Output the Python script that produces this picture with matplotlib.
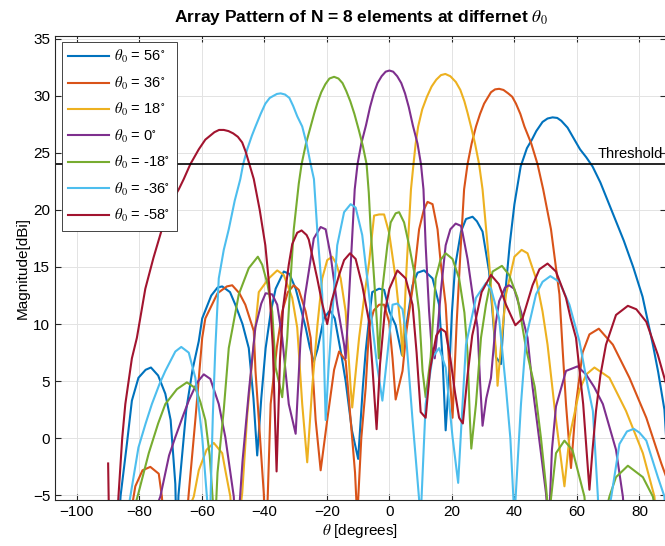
import matplotlib
matplotlib.use("Agg")
import matplotlib.pyplot as plt

plt.rcParams['font.family'] = ['Liberation Sans', 'DejaVu Sans']
plt.rcParams['mathtext.fontset'] = 'stix'

# (theta [deg], magnitude [dBi]), one list per steering angle
pat_56 = [(-90, -20), (-87, -9), (-86, -5), (-84, -0.5), (-82.4, 3.3), (-80.3, 5.3), (-78, 6.0), (-76.3, 6.2),
          (-74, 5.5), (-71.7, 3.9), (-70, 1.6), (-68.5, -4), (-68, -10), (-67.5, -5), (-65, 2.5), (-63, 6.0),
          (-61, 8.5), (-59.9, 10.5), (-57, 12.5), (-55, 13.2), (-53.5, 13.3), (-51, 12.8), (-49.3, 11.7),
          (-47, 10), (-45, 7.9), (-43.5, 3.5), (-42.3, -1.5), (-41, 3.5), (-39.6, 7.9), (-38, 11), (-36.4, 13.1),
          (-33.8, 14.6), (-32, 14.4), (-30, 13.1), (-28, 11), (-26.8, 9.7), (-25.5, 8), (-24.2, 6.7), (-23, 7.8),
          (-21, 10.5), (-19, 11.2), (-17.5, 10.5), (-15.5, 7.5), (-14, 5), (-12, 0.7), (-10, -1.8), (-8.5, 4.5),
          (-7.6, 7.6), (-6.5, 10.5), (-5.5, 12.8), (-3.3, 13.1), (-1.7, 13.0), (0, 11.1), (2, 9.9), (4, 7.3),
          (5.5, 10), (7.4, 13.4), (9, 14.5), (11.1, 14.7), (13.8, 14.0), (15.9, 11.7), (17, 7), (18, 0.7),
          (19, 5), (20, 11), (21, 15), (22.9, 18.1), (24.5, 19.2), (26.6, 19.4), (28, 19.0), (29.8, 18.1),
          (31.9, 14.6), (33, 11), (34.1, 7.1), (35.7, 6.5), (37, 12.5), (38.5, 17), (40, 20.5), (42, 23.8),
          (44, 25.4), (45.6, 26.15), (47, 26.9), (49, 27.7), (50.6, 28.0), (52.2, 28.1), (53.7, 28.05),
          (55, 27.8), (57, 27.2), (59.2, 26.15), (61, 25.3), (63, 24.6), (65, 23.8), (67.5, 22.4), (70, 20.7),
          (72.5, 19), (75, 17.3), (78, 15), (81, 12.4), (84.3, 8.2), (86, 5.8), (88, 2.5), (89, -2), (90, -20)]

pat_36 = [(-90, -20), (-85, -10), (-83, -7), (-81.3, -4.2), (-79, -2.8), (-76.5, -2.5), (-73.8, -3.1),
          (-72.8, -5.1), (-71.5, -10), (-68, -15), (-65.5, -9), (-64.2, -4.8), (-62.1, 1.6), (-59.9, 8.8),
          (-58.9, 10.5), (-55, 12.7), (-52, 13.3), (-50.3, 13.4), (-48, 12.7), (-46.1, 11.7), (-43.4, 9.4),
          (-42.85, 5.9), (-40.2, -4.8), (-39.5, -10), (-38, 3.0), (-36, 8), (-34.3, 11.1), (-32.5, 12.8),
          (-30.6, 13.4), (-29, 13.0), (-26.8, 11.1), (-25.2, 8.8), (-23.6, 1.6), (-22, -2.8), (-19.9, 1.6),
          (-17.7, 6.0), (-16.1, 7.6), (-14, 6.8), (-12.4, 1.6), (-11, -3), (-10.3, -7), (-9, 0), (-7.6, 4.4),
          (-6.5, 9.7), (-5, 11.2), (-3.3, 11.7), (-1.7, 11.7), (-0.1, 10.2), (1, 7), (2, 3.4), (4.2, 5.9),
          (5.5, 9.5), (7.4, 13.1), (9.5, 18.3), (11, 20.0), (12.2, 20.7), (13.8, 20.5), (15.4, 18.3),
          (16.4, 15.4), (18, 11.7), (19, 7), (20.2, 1.8), (21.5, 10), (22.85, 16.9), (23.9, 21.8), (25, 24),
          (26.3, 25.8), (27.7, 27.3), (29, 28.4), (30.3, 29.3), (32.5, 30.3), (33.8, 30.55), (35.1, 30.6),
          (36.5, 30.5), (38, 30.2), (39.3, 29.9), (40.5, 29.3), (41.9, 28.4), (43.2, 27.3), (45.4, 25.8),
          (47.4, 24), (49.2, 21.8), (51.7, 18.3), (54.4, 12.6), (55.4, 7.9), (56.5, 3.0), (58.1, -2.6),
          (59.7, 3.0), (61.8, 7.5), (64, 9.1), (67, 9.6), (71.5, 8.2), (76.8, 5.3), (82.2, 1.8), (87, -2.2),
          (88.6, -3.4), (90, -20)]

pat_18 = [(-90, -20), (-70, -10), (-62.6, -5.1), (-61, -2.8), (-58.5, -1), (-56.2, -0.4), (-53.5, -1.3),
          (-52.5, -2.8), (-50.9, -5.1), (-50, -9), (-48.5, -8), (-47.1, -4.8), (-45.5, 2), (-43.5, 8),
          (-41.8, 12.8), (-38.6, 14.0), (-35.9, 14.7), (-33.8, 14.3), (-31.1, 12.3), (-29.5, 9.7), (-27.9, 3.0),
          (-26.3, -2.1), (-24.7, 4.5), (-23, 10), (-21.5, 14.0), (-19.9, 15.6), (-18.3, 15.9), (-17, 15.3),
          (-15.6, 14.0), (-14, 11.1), (-12.4, 4.4), (-11.9, 2.7), (-9.7, 8.8), (-8, 12.5), (-6.5, 15.4),
          (-4.9, 19.5), (-3.3, 19.6), (-1.7, 19.6), (-0.1, 18.0), (2, 14.0), (3.6, 9.7), (4.2, 7.2), (5.5, 15),
          (6.9, 21.8), (7.7, 24), (8.4, 25.8), (9.2, 27.3), (10.5, 28.8), (12, 29.9), (13.5, 30.8), (15, 31.4),
          (16.5, 31.8), (17.9, 31.9), (19.5, 31.7), (21.25, 31.2), (22.7, 30.5), (24, 29.5), (25, 28.5),
          (26.1, 27.3), (27.4, 25.8), (28.7, 24), (29.8, 21.8), (31.9, 15.4), (34.1, 7.5), (34.6, 4.6), (36, 9),
          (37.3, 12.6), (40, 15.9), (42.3, 16.5), (44.2, 16.2), (46.9, 14.0), (49, 11.1), (50.6, 8.2),
          (53.3, 1.6), (56, -4.2), (57.6, 0.1), (60.8, 4.2), (63, 5.6), (65.6, 6.2), (70.4, 5.3), (75.7, 2.4),
          (81.1, -1.3), (84.8, -5.1), (86, -9), (90, -20)]

pat_0 = [(-90, -20), (-80, -10), (-73.3, -5.1), (-70.5, -1.5), (-68.5, 0.1), (-66, 2), (-64.2, 3.3),
         (-61.5, 4.9), (-59.4, 5.6), (-57.3, 5.2), (-54.6, 3.0), (-52.5, 0.1), (-49.8, -5.1), (-49, -10),
         (-47, -2), (-45, 4), (-42.9, 9.7), (-41, 11.8), (-39.6, 12.7), (-37.5, 12.6), (-35.9, 11.7),
         (-34.3, 8.8), (-32.2, 3.0), (-30, 0.4), (-28.4, 8.8), (-27, 12.5), (-25.8, 14.6), (-24.2, 17.5),
         (-22, 18.5), (-20.4, 18.3), (-18.8, 16.0), (-16.7, 11.7), (-14.5, 8.2), (-14, 7), (-13, 12),
         (-11.1, 21.8), (-10.2, 24), (-9, 25.8), (-7.5, 27.4), (-6.2, 29.0), (-5, 30.2), (-3.8, 31.1),
         (-2.5, 31.7), (-1.2, 32.1), (0, 32.2), (1.2, 32.1), (2.5, 31.7), (3.8, 31.1), (5, 30.2), (6.2, 29.0),
         (7.5, 27.4), (9, 25.8), (10.1, 24), (10.9, 21.8), (11.6, 16.9), (12.7, 11.1), (13.5, 8), (14.5, 7),
         (15.4, 9.4), (16.5, 13), (18, 16.9), (19.5, 18.3), (21.2, 18.8), (22.9, 18.6), (23.4, 18.0),
         (25, 15.7), (26.6, 12.6), (28.2, 9.7), (29, 5), (29.8, 1.1), (31, 3.5), (32.5, 5.3), (34, 10),
         (35.1, 12.0), (37, 13.2), (38.3, 13.4), (39.9, 13.1), (42.1, 11.1), (44.2, 8.8), (45.8, 4.5),
         (48.5, -1.3), (50.1, -4.8), (51, -8), (52, -1), (53.3, 2.8), (56.5, 5.9), (60.2, 6.3), (62.9, 5.6),
         (65.5, 4.5), (68.3, 3.0), (72.5, -1.0), (74.7, -5.1), (76, -10), (90, -20)]

pat_m18 = [(-90, -20), (-85, -10), (-82, -6.5), (-80.3, -4.8), (-77, -1.3), (-74, 1.3), (-71.7, 3.0),
           (-68, 4.3), (-64.8, 4.9), (-62.1, 4.4), (-60.5, 3.2), (-58.9, 1.6), (-57.5, -1.5), (-56.5, -5.5),
           (-56, -9), (-55, -3), (-53, 2.5), (-51.4, 7.9), (-50.3, 9.5), (-48.2, 12.6), (-45, 14.9),
           (-42.1, 15.9), (-40.7, 15.2), (-39, 13.5), (-37.5, 11.1), (-36.4, 6.2), (-34.3, 3.6), (-32.7, 8.8),
           (-31.6, 14.0), (-30.6, 18.3), (-29, 22.3), (-28.1, 24), (-26.7, 25.8), (-25.2, 27.3), (-24, 28.5),
           (-23, 29.4), (-21.8, 30.3), (-20.5, 31), (-19.2, 31.5), (-17.7, 31.65), (-16.3, 31.5), (-15, 31.1),
           (-13.8, 30.4), (-12.5, 29.5), (-11.2, 28.4), (-9.8, 27.0), (-8.5, 25.6), (-7.3, 24), (-6.6, 21.5),
           (-6, 18.3), (-4.9, 14.0), (-3.9, 9.7), (-3.4, 7), (-2.25, 13.1), (-0.65, 16.9), (0.4, 18.9), (2, 19.7),
           (3.1, 19.8), (4.7, 18.9), (6.3, 16.9), (7.9, 14.6), (9.5, 11.1), (10.6, 5.9), (11.6, 3.6),
           (13.2, 7.1), (14.8, 14.0), (16.3, 15.6), (18, 16.2), (20.2, 15.7), (22.3, 14.0), (24, 11), (25, 7.5),
           (25.7, 2), (26.2, -0.9), (27.7, 3.0), (29.3, 8.8), (30.9, 11.7), (33, 14.6), (36, 15.1), (38.3, 14.3),
           (41, 12.3), (43.7, 7.9), (46.5, 4.5), (48.5, 0), (50.1, -4.2), (51, -7), (53.3, -1.3), (56, -0.2),
           (58.6, -1.05), (62.4, -5.1), (63.5, -9), (66, -10), (70.4, -5.1), (72.5, -3.4), (76.3, -2.4),
           (81.1, -3.4), (84.3, -5.1), (87, -9), (90, -20)]

pat_m36 = [(-90, -20), (-86, -10), (-82.9, -5.1), (-80.3, -0.8), (-78, 1.3), (-76, 3.0), (-73.5, 4.8),
           (-71.7, 5.9), (-68.5, 7.6), (-66.6, 8.0), (-64.2, 7.5), (-62.1, 5.3), (-59.9, 0.1), (-58.4, -5.1),
           (-57.5, -8), (-56.5, 2), (-55.7, 7.9), (-54.6, 14.0), (-53, 16.5), (-51.4, 18.3), (-49.5, 20.8),
           (-47.7, 22.7), (-46.8, 24), (-45.5, 25.3), (-44, 26.5), (-42.85, 27.3), (-41.2, 28.4), (-39.7, 29.3),
           (-38.3, 29.8), (-37, 30.0), (-36, 30.15), (-34.8, 30.2), (-33.4, 30.1), (-32, 29.8), (-30.8, 29.1),
           (-29.5, 28.2), (-27.9, 27.3), (-26.5, 25.8), (-25.2, 24), (-24.15, 22.7), (-23.1, 18.3),
           (-21.5, 12.6), (-20.4, 1.6), (-19.5, 6), (-18.8, 8.8), (-16.7, 16.9), (-14.5, 19.8), (-12.4, 20.5),
           (-10.8, 20.2), (-8.7, 17.8), (-7.1, 14.0), (-5.5, 10), (-4, 6.5), (-2.25, 3.3), (-0.65, 7.3), (1, 11.7),
           (2.55, 11.8), (4.2, 11.3), (5.2, 9.4), (7.4, 1.6), (8.5, -2), (10, -7), (11.6, 3.0), (13.8, 7.1),
           (15.9, 7.9), (18, 6.2), (20.2, 0.1), (22, -3.9), (23.5, 3.5), (24.5, 8.2), (27.7, 12.3), (30.9, 13.6),
           (32.5, 13.1), (35.1, 10.5), (37.3, 4.4), (38.7, 0), (40, -7), (42.1, 3.0), (43.7, 8.8), (46.9, 12.6),
           (49, 13.7), (51.5, 14.2), (54.4, 13.7), (57.6, 11.7), (60.8, 8.5), (63.5, 4.5), (65.1, 2.4),
           (66.7, -5.1), (67.5, -10), (69, -8), (71, -5.1), (73.6, -0.5), (76, 0.6), (78.2, 0.83), (80, 0.5),
           (82.2, -0.2), (85.9, -3.4), (88, -5.1), (89, -10), (90, -20)]

pat_m58 = [(-90, -2.2), (-89, -20), (-88, -12), (-86.7, -5.1), (-85.5, 0), (-84.5, 3.0), (-82.4, 7.0),
           (-80.8, 8.8), (-78.1, 13.1), (-75.5, 15.8), (-72.8, 18.3), (-69.5, 20.8), (-67.4, 21.8),
           (-65.8, 22.7), (-63.7, 24), (-61, 25.3), (-58.9, 26.15), (-56, 26.8), (-54.5, 27.0), (-53, 27.0),
           (-51.5, 26.9), (-50, 26.7), (-48.5, 26.4), (-47.1, 25.9), (-46, 25.1), (-44.8, 24), (-43.4, 22.7),
           (-41.5, 20), (-39.7, 16.9), (-38.5, 13.5), (-37.3, 8), (-36.1, -2.9), (-35, 7), (-34, 11.5),
           (-32.2, 15.2), (-31.1, 17.0), (-29.5, 18.0), (-28.1, 18.2), (-26.5, 17.8), (-25.8, 17.4),
           (-23.1, 14.0), (-21.5, 11.8), (-19.9, 10.0), (-18.5, 12), (-16.1, 14.3), (-14.5, 15.6), (-12.6, 16.2),
           (-10.8, 15.7), (-8.7, 13.4), (-6.5, 10.2), (-5.5, 6.5), (-4.1, 0.8), (-3, 6.5), (-1.5, 11), (0, 13.1),
           (2.55, 14.7), (5.2, 14.0), (7.4, 11.7), (8.7, 7.5), (10, 2.3), (11.6, 1.8), (13, 6), (15, 9),
           (16.5, 9.6), (18, 9.3), (19.5, 7), (21, 4), (22.3, 1.8), (23.5, 1.3), (25, 5.5), (26.5, 9),
           (27.7, 10.5), (29.5, 12.8), (32.5, 14.3), (35, 13.5), (37.3, 11.7), (40.3, 9.9), (42.6, 10.5),
           (45.8, 13.4), (48, 14.8), (50.6, 15.3), (53.3, 14.6), (56.5, 12.3), (58, 10.5), (59.7, 8.8), (62, 3),
           (64, -4.5), (65, -1), (66.1, 2.4), (67.5, 5.5), (69.3, 8.2), (72.5, 10.8), (76.3, 11.6), (79, 11.3),
           (82.2, 10.2), (85.9, 7.3), (88.6, 4.7), (89.5, 0), (90, -10)]

steer_labels = ['56', '36', '18', '0', '-18', '-36', '-58']
patterns = [pat_56, pat_36, pat_18, pat_0, pat_m18, pat_m36, pat_m58]
colors = ['#0072BD', '#D95319', '#EDB120', '#7E2F8E', '#77AC30', '#4DBEEE', '#A2142F']
threshold = 24

fig = plt.figure(figsize=(6.65, 5.46), dpi=100)
ax = fig.add_axes([55 / 665, 46 / 546, 611 / 665, 464.3 / 546])

for pat, lab, c in zip(patterns, steer_labels, colors):
    th, mag = zip(*pat)
    ax.plot(th, mag, color=c, lw=1.5, label=r'$\theta_0$ = ' + lab + r'$^{\circ}$')

ax.axhline(threshold, color='k', lw=1.2)
ax.text(66.6, threshold + 0.3, 'Threshold', fontsize=10.5, va='bottom', ha='left')

ax.set_xlim(-107, 88.5)
ax.set_ylim(-5.4, 35.25)
ax.set_xticks(range(-100, 81, 20))
ax.set_yticks(range(-5, 36, 5))
ax.grid(True, color='#e3e3e3', lw=0.7)
ax.set_axisbelow(True)
ax.tick_params(direction='in', length=4, labelsize=11, top=True, right=True, color='#262626')
for s in ax.spines.values():
    s.set_color('#262626')
    s.set_linewidth(0.8)

ax.set_title(r'Array Pattern of N = 8 elements at differnet $\theta_0$', fontsize=12.5, fontweight='bold', pad=10)
ax.set_xlabel(r'$\theta$ [degrees]', fontsize=11, labelpad=2)
ax.set_ylabel('Magnitude[dBi]', fontsize=11, labelpad=2)

leg = ax.legend(loc='upper left', bbox_to_anchor=(0.011, 0.987), borderaxespad=0, fontsize=10.5,
                handlelength=2.8, handletextpad=0.35, labelspacing=0.64, borderpad=0.45,
                fancybox=False, framealpha=1)
leg.get_frame().set_edgecolor('#262626')
leg.get_frame().set_linewidth(0.6)

fig.savefig('out.png', dpi=100)
